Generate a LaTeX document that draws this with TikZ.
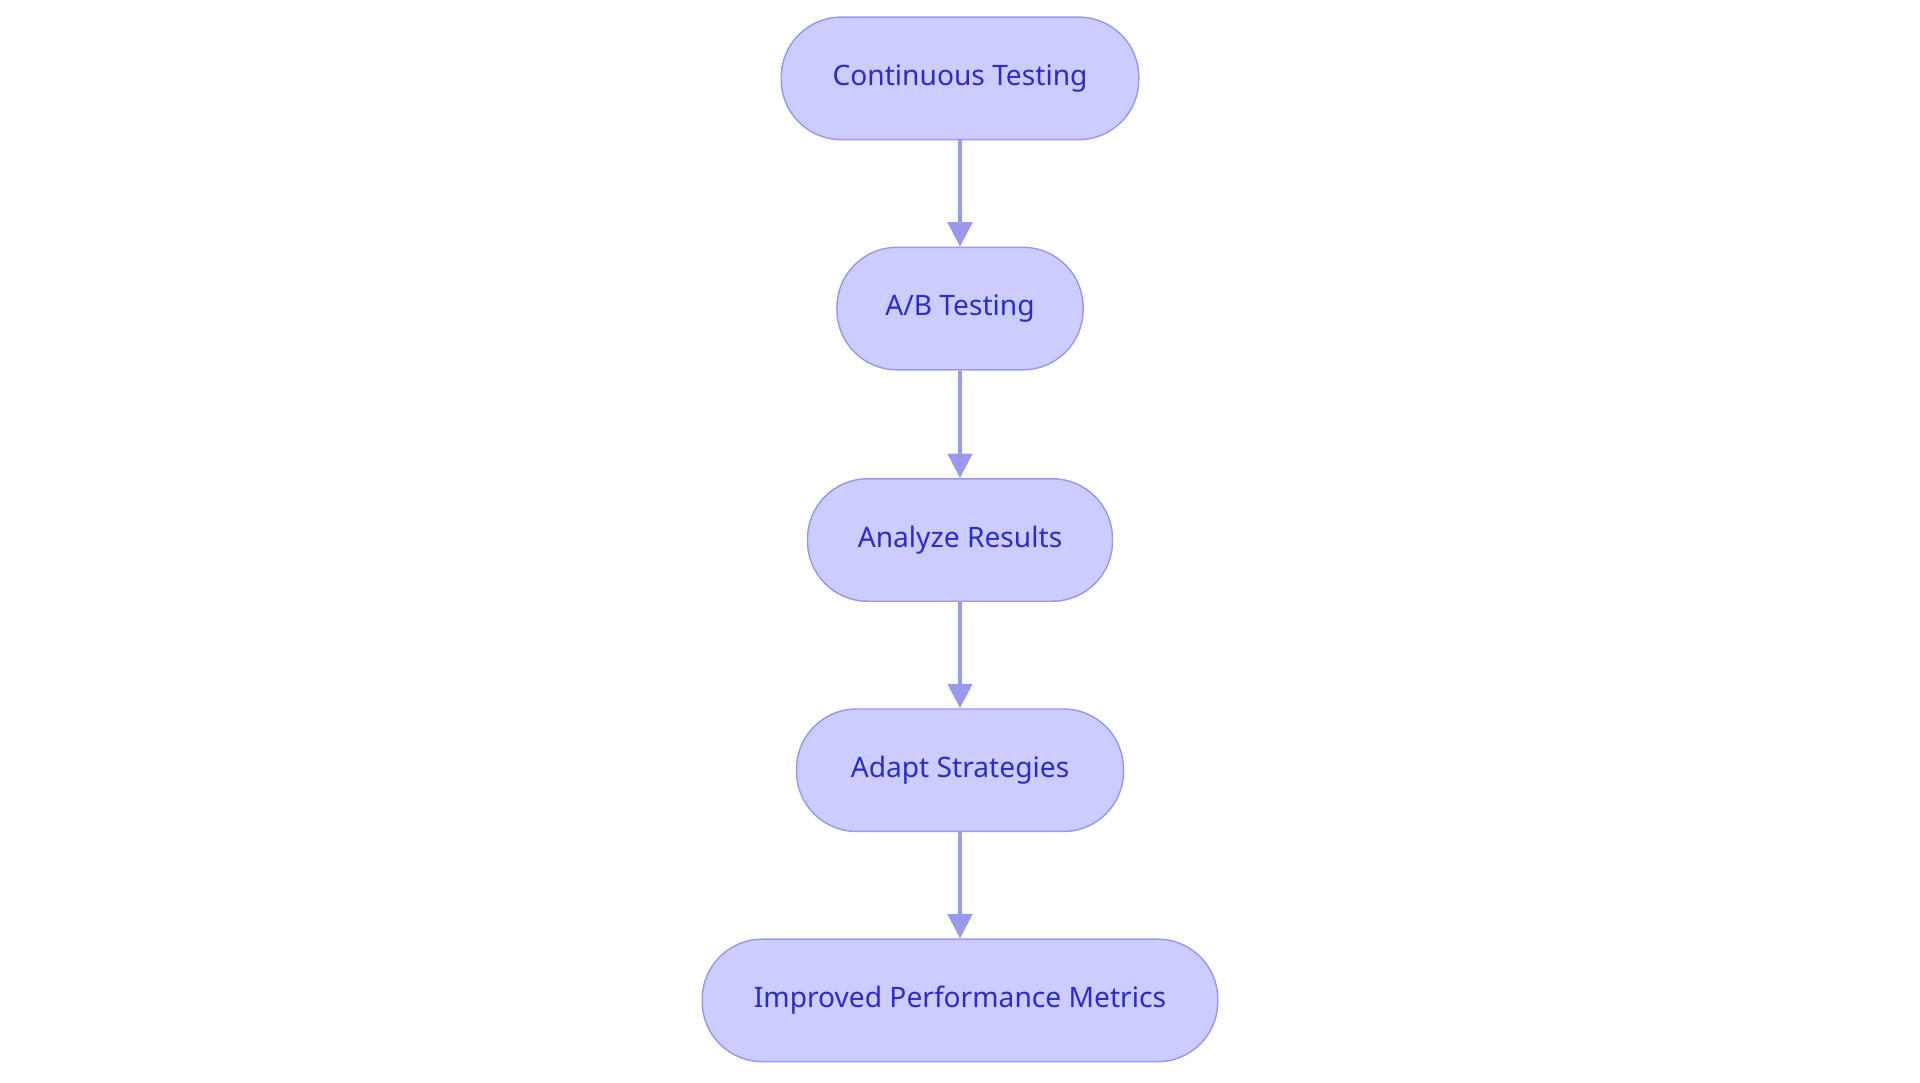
\documentclass[tikz,border=0pt]{standalone}
\usepackage{fontspec}
\setmainfont{Noto Sans}
\usetikzlibrary{arrows.meta}
\definecolor{boxfill}{HTML}{CCCCFF}
\definecolor{boxline}{HTML}{9999EE}
\definecolor{boxtext}{HTML}{2B2BCC}
\tikzset{
	stage/.style={draw=boxline, fill=boxfill, line width=1.2pt, rounded corners=49pt,
		minimum height=100pt, text=boxtext, font=\fontsize{23}{28}\selectfont},
	flow/.style={draw=boxline, line width=3pt, -{Triangle[length=20pt,width=20pt]}}
}
\begin{document}
\begin{tikzpicture}[x=1pt,y=-1pt]
	\useasboundingbox (0,0) rectangle (1568,884);
	\node[stage, minimum width=292pt] (cont) at (784,64) {Continuous Testing};
	\node[stage, minimum width=201pt] (ab) at (784,252) {A/B Testing};
	\node[stage, minimum width=249pt] (analyze) at (784,441) {Analyze Results};
	\node[stage, minimum width=267pt] (adapt) at (784,629) {Adapt Strategies};
	\node[stage, minimum width=421pt] (metrics) at (784,817) {Improved Performance Metrics};
	
	\draw[flow] (cont) -- (ab);
	\draw[flow] (ab) -- (analyze);
	\draw[flow] (analyze) -- (adapt);
	\draw[flow] (adapt) -- (metrics);
\end{tikzpicture}
\end{document}
